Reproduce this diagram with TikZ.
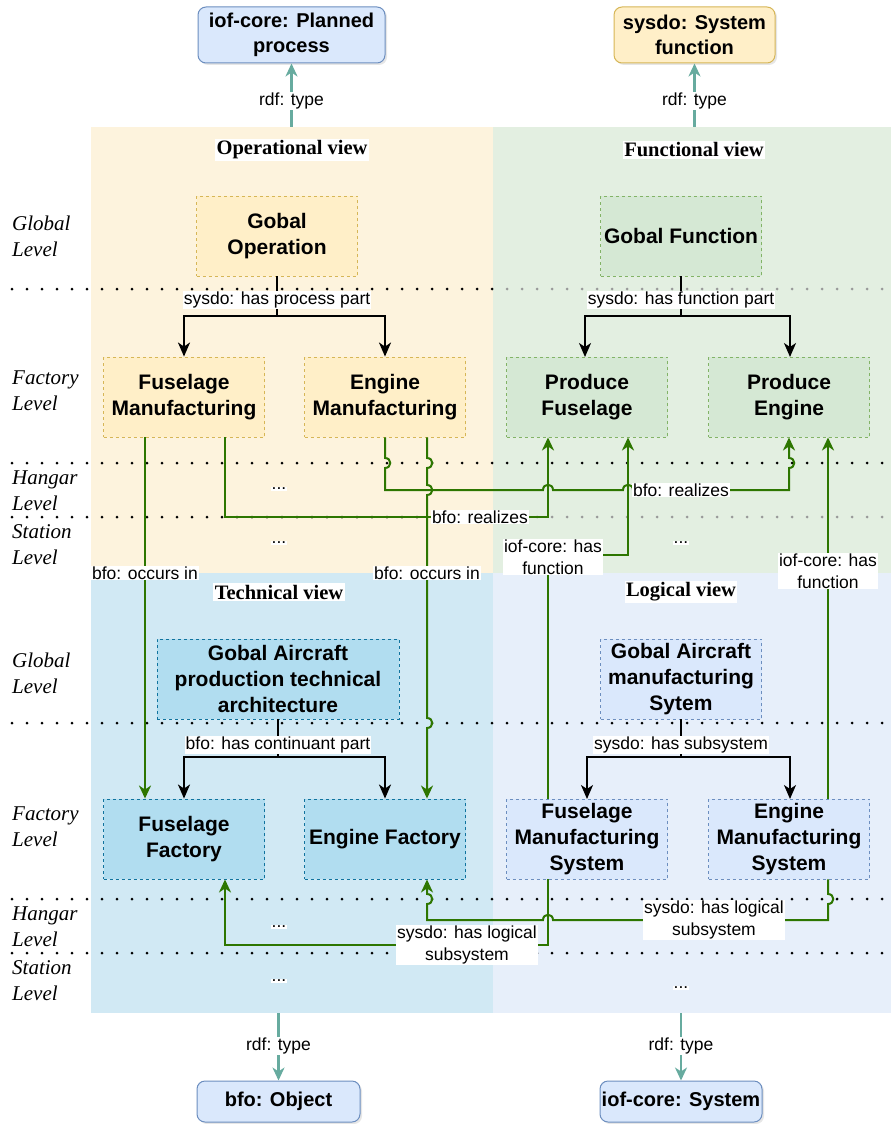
\documentclass[tikz,border=0pt]{standalone}
\usepackage{fontspec}
\setmainfont{Liberation Serif}
\setsansfont{Liberation Sans}
\usetikzlibrary{arrows.meta,shadows}
\definecolor{opBG}{HTML}{FDF3DD}
\definecolor{fnBG}{HTML}{E3EFE1}
\definecolor{teBG}{HTML}{D1E9F4}
\definecolor{loBG}{HTML}{E7EFFA}
\definecolor{opF}{HTML}{FFEFC8}
\definecolor{opS}{HTML}{D6B656}
\definecolor{fnF}{HTML}{D5E8D4}
\definecolor{fnS}{HTML}{82B366}
\definecolor{teF}{HTML}{B1DDF0}
\definecolor{teS}{HTML}{10739E}
\definecolor{loF}{HTML}{DAE8FC}
\definecolor{loS}{HTML}{6C8EBF}
\definecolor{gC}{HTML}{2D7600}
\definecolor{tC}{HTML}{67AB9F}
\begin{document}
\begin{tikzpicture}[x=1pt,y=-1pt,
  bgbox/.style={draw=none, inner sep=0pt, minimum width=#1},
  lvl/.style={draw=black, line width=3pt, dash pattern=on 0pt off 15pt, line cap=round},
  lvlg/.style={lvl, draw=black!40},
  dnode/.style={dash pattern=on 3pt off 3pt, line width=0.9pt, minimum width=161pt, minimum height=80pt, align=center, inner sep=0pt, font=\sffamily\bfseries\fontsize{21}{26}\selectfont},
  opn/.style={dnode, draw=opS, fill=opF},
  fnn/.style={dnode, draw=fnS, fill=fnF},
  ten/.style={dnode, draw=teS, fill=teF},
  lon/.style={dnode, draw=loS, fill=loF},
  topbox/.style={rounded corners=8pt, line width=1pt, align=center, inner sep=0pt, font=\sffamily\bfseries\fontsize{20}{25}\selectfont, drop shadow={opacity=0.2, shadow xshift=2pt, shadow yshift=-2pt}},
  lab/.style={fill=white, font=\sffamily\fontsize{17.5}{22}\selectfont, inner sep=1pt, align=center},
  ttl/.style={fill=white, font=\rmfamily\bfseries\fontsize{20.5}{24}\selectfont, inner sep=1.5pt},
  lvltxt/.style={font=\rmfamily\itshape\fontsize{21}{26}\selectfont, align=left, anchor=west, inner sep=0pt},
  garr/.style={draw=gC, line width=2pt, -{Stealth[length=13pt,width=12pt,inset=4pt]}},
  barr/.style={draw=black, line width=2pt, -{Stealth[length=14pt,width=12pt,inset=4pt]}},
  tarr/.style={draw=tC, line width=2.2pt, -{Stealth[length=13pt,width=12pt,inset=4pt]}}
]
\useasboundingbox (0,0) rectangle (891,1124);

% view backgrounds
\node[bgbox=402pt, minimum height=446pt, fill=opBG] (opv) at (292,350) {};
\node[bgbox=398pt, minimum height=446pt, fill=fnBG] (fnv) at (692,350) {};
\node[bgbox=402pt, minimum height=440pt, fill=teBG] (tev) at (292,793) {};
\node[bgbox=398pt, minimum height=440pt, fill=loBG] (lov) at (692,793) {};

% level lines
\foreach \yy in {463,723,899,953} \draw[lvl] (12,\yy) -- (891,\yy);
\draw[lvl] (12,289) -- (493,289);
\draw[lvlg] (507,289) -- (891,289);
\draw[lvl] (12,517) -- (493,517);
\draw[lvlg] (507,517) -- (891,517);

% level texts
\node[lvltxt] (l1) at (12,236) {Global\\Level};
\node[lvltxt] (l2) at (12,391) {Factory\\Level};
\node[lvltxt] (l3) at (12,491) {Hangar\\Level};
\node[lvltxt] (l4) at (12,545) {Station\\Level};
\node[lvltxt] (l5) at (12,673) {Global\\Level};
\node[lvltxt] (l6) at (12,827) {Factory\\Level};
\node[lvltxt] (l7) at (12,927) {Hangar\\Level};
\node[lvltxt] (l8) at (12,981) {Station\\Level};

% titles
\node[ttl] (t1) at (292,150) {Operational view};
\node[ttl] (t2) at (694,150) {Functional view};
\node[ttl] (t3) at (279,592) {Technical view};
\node[ttl] (t4) at (681,592) {Logical view};

% top / bottom class boxes
\node[topbox, fill=loF, draw=loS, minimum width=187pt, minimum height=56pt] (pp) at (291.5,35) {iof-core: Planned\\process};
\node[topbox, fill=opF, draw=opS, minimum width=161pt, minimum height=56pt] (sf) at (694.5,35) {sysdo: System\\function};
\node[topbox, fill=loF, draw=loS, minimum width=163pt, minimum height=41pt] (obj) at (278.5,1101.5) {bfo: Object};
\node[topbox, fill=loF, draw=loS, minimum width=162pt, minimum height=41pt] (sys) at (681,1101.5) {iof-core: System};

% view nodes
\node[opn] (gop) at (277,236) {Gobal\\Operation};
\node[fnn] (gfn) at (681,236) {Gobal Function};
\node[opn] (fm) at (184,397) {Fuselage\\Manufacturing};
\node[opn] (em) at (385,397) {Engine\\Manufacturing};
\node[fnn] (pf) at (587,397) {Produce\\Fuselage};
\node[fnn] (pe) at (789,397) {Produce\\Engine};
\node[ten, minimum width=242pt] (gte) at (278,679) {Gobal Aircraft\\production technical\\architecture};
\node[lon] (glo) at (681,679) {Gobal Aircraft\\manufacturing\\Sytem};
\node[ten] (ff) at (184,839) {Fuselage\\Factory};
\node[ten] (ef) at (385,839) {Engine Factory};
\node[lon] (fms) at (587,839) {Fuselage\\Manufacturing\\System};
\node[lon] (ems) at (789,839) {Engine\\Manufacturing\\System};

% rdf:type arrows
\draw[tarr] (pp.south |- opv.north) -- (pp.south);
\draw[tarr] (sf.south |- fnv.north) -- (sf.south);
\draw[tarr] (obj.north |- tev.south) -- (obj.north);
\draw[tarr] (sys.north |- lov.south) -- (sys.north);
\node[lab] (r1) at (291.5,101) {rdf: type};
\node[lab] (r2) at (694.5,101) {rdf: type};
\node[lab] (r3) at (278.5,1046) {rdf: type};
\node[lab] (r4) at (681,1046) {rdf: type};

% part-of trees
\draw[barr] (gop.south) -- (277,316) -| (fm.north);
\draw[barr] (277,316) -| (em.north);
\node[lab] (k1) at (277,300) {sysdo: has process part};
\draw[barr] (gfn.south) -- (681,316) -| (585,357);
\draw[barr] (681,316) -| (790,357);
\node[lab] (k2) at (681,300) {sysdo: has function part};
\draw[barr] (gte.south) -- (278,757) -| (ff.north);
\draw[barr] (278,757) -| (ef.north);
\node[lab] (k3) at (278,745) {bfo: has continuant part};
\draw[barr] (glo.south) -- (681,757) -| (587,799);
\draw[barr] (681,757) -| (790,799);
\node[lab] (k4) at (681,745) {sysdo: has subsystem};

% dots
\node[lab] (d1) at (279,489) {...};
\node[lab] (d2) at (279,543) {...};
\node[lab] (d3) at (681,543) {...};
\node[lab] (d4) at (279,927) {...};
\node[lab] (d5) at (279,981) {...};
\node[lab] (d6) at (681,988) {...};

% green relations
% occurs in (left)
\draw[garr] ([xshift=-39pt]fm.south) -- ([xshift=-39pt]ff.north);
% occurs in (right)
\draw[garr] ([xshift=42pt]em.south) -- (427,458) .. controls +(7,0) and +(7,0) .. (427,468)
  -- (427,485) .. controls +(7,0) and +(7,0) .. (427,495)
  -- (427,718) .. controls +(7,0) and +(7,0) .. (427,728)
  -- ([xshift=42pt]ef.north);
% realizes (left)
\draw[garr] ([xshift=41pt]fm.south) -- (225,517) -- (548,517) -- ([xshift=-39pt]pf.south);
% realizes (right)
\draw[garr] (em.south) -- (385,458) .. controls +(7,0) and +(7,0) .. (385,468)
  -- (385,490) -- (543,490) .. controls +(0,-7) and +(0,-7) .. (553,490)
  -- (623,490) .. controls +(0,-7) and +(0,-7) .. (633,490)
  -- (789,490) -- (789,468) .. controls +(7,0) and +(7,0) .. (789,458)
  -- (pe.south);
% has function (left)
\draw[garr] ([xshift=-39pt]fms.north) -- (548,555) -- (628,555) -- ([xshift=41pt]pf.south);
% has function (right)
\draw[garr] ([xshift=39pt]ems.north) -- ([xshift=39pt]pe.south);
% logical subsystem (left)
\draw[garr] ([xshift=-39pt]fms.south) -- (548,945) -- (225,945) -- ([xshift=41pt]ff.south);
% logical subsystem (right)
\draw[garr] ([xshift=39pt]ems.south) -- (828,894) .. controls +(7,0) and +(7,0) .. (828,904)
  -- (828,920) -- (553,920) .. controls +(0,-7) and +(0,-7) .. (543,920)
  -- (427,920) -- (427,904) .. controls +(7,0) and +(7,0) .. (427,894)
  -- ([xshift=42pt]ef.south);

% relation labels
\node[lab] (g1) at (145,573) {bfo: occurs in};
\node[lab] (g2) at (427,573) {bfo: occurs in};
\node[lab] (g3) at (480,517) {bfo: realizes};
\node[lab] (g4) at (681,490) {bfo: realizes};
\node[lab] (g5) at (553,557) {iof-core: has\\function};
\node[lab] (g6) at (828,571) {iof-core: has\\function};
\node[lab] (g7) at (467,945) {sysdo: has logical\\subsystem};
\node[lab] (g8) at (714,920) {sysdo: has logical\\subsystem};
\end{tikzpicture}
\end{document}
